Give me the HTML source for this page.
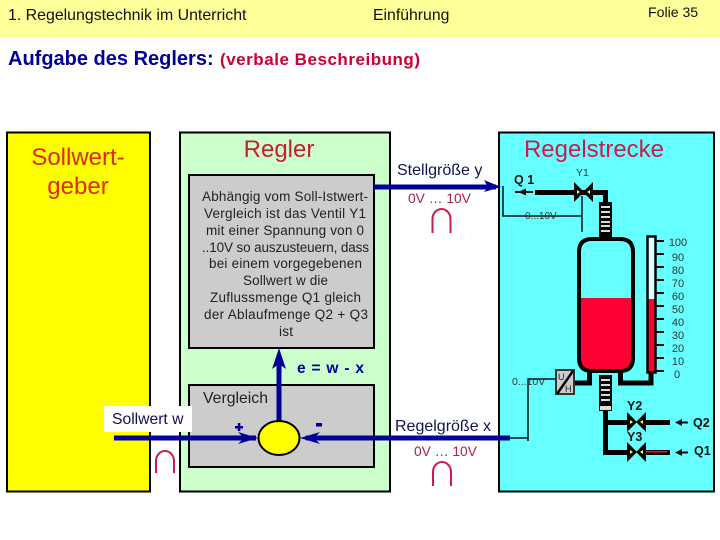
<!DOCTYPE html>
<html><head><meta charset="utf-8"><style>
html,body{margin:0;padding:0;background:#fff}
svg{display:block}
text{font-family:"Liberation Sans",sans-serif}
</style></head><body>
<svg width="720" height="540" viewBox="0 0 720 540" xmlns="http://www.w3.org/2000/svg">
<rect x="0" y="0" width="720" height="37" fill="#ffff99"/>
<text x="8" y="20" font-size="15.900" fill="#111">1. Regelungstechnik im Unterricht</text>
<text x="373" y="20" font-size="15.800" fill="#111">Einführung</text>
<text x="648" y="17" font-size="14.100" fill="#111">Folie 35</text>
<text x="8" y="65" font-size="20" font-weight="bold" fill="#000099">Aufgabe des Reglers:</text>
<text x="220" y="65" font-size="17" font-weight="bold" fill="#cc0033" textLength="200">(verbale Beschreibung)</text>

<rect x="7" y="132.500" width="143" height="359" fill="#ffff00" stroke="#000" stroke-width="2"/>
<rect x="180" y="132.500" width="210" height="359" fill="#ccffcc" stroke="#000" stroke-width="2"/>
<rect x="499" y="132.500" width="215" height="359" fill="#66ffff" stroke="#000" stroke-width="2"/>
<rect x="189" y="175" width="185" height="173" fill="#cccccc" stroke="#000" stroke-width="2"/>
<rect x="189" y="385" width="185" height="82" fill="#cccccc" stroke="#000" stroke-width="2"/>

<text x="78" y="165" font-size="24" fill="#dd2a10" text-anchor="middle">Sollwert-</text>
<text x="78" y="194" font-size="24" fill="#dd2a10" text-anchor="middle">geber</text>
<text x="279" y="157" font-size="24" fill="#cc1a33" text-anchor="middle">Regler</text>
<text x="594" y="157" font-size="24" fill="#cc1a4a" text-anchor="middle">Regelstrecke</text>

<g font-size="13.500" fill="#222">
<text x="202" y="201" textLength="166">Abhängig vom Soll-Istwert-</text>
<text x="204" y="218" textLength="162">Vergleich ist das Ventil Y1</text>
<text x="206" y="235" textLength="158">mit einer Spannung von 0</text>
<text x="202" y="252" textLength="167">..10V so auszusteuern, dass</text>
<text x="209" y="268" textLength="153">bei einem vorgegebenen</text>
<text x="243" y="285" textLength="85">Sollwert w die</text>
<text x="210" y="302" textLength="151">Zuflussmenge Q1 gleich</text>
<text x="204" y="319" textLength="164">der Ablaufmenge Q2 + Q3</text>
<text x="279" y="336" textLength="14">ist</text>
</g>

<text x="203" y="403" font-size="15.800" fill="#222">Vergleich</text>

<!-- Blue lines -->
<g fill="#000099" stroke="none">
<rect x="374" y="184.500" width="122" height="5"/>
<polygon points="484,180 501,187 484,192 488,187"/>
<rect x="114" y="435.500" width="142" height="5"/>
<polygon points="238,432 258,438 238,444 244,438"/>
<rect x="306" y="435.500" width="204" height="5"/>
<polygon points="320,432 300,438 320,444 314,438"/>
<rect x="276.500" y="360" width="5" height="61"/>
<polygon points="279,348 272,369 279,364 286,369"/>
<text x="297" y="373" font-size="15.500" font-weight="bold" textLength="67">e = w - x</text>
</g>
<rect x="235" y="426" width="8" height="2.500" fill="#000099"/>
<rect x="237.800" y="423" width="2.500" height="8" fill="#000099"/>
<rect x="316" y="423" width="6" height="3.500" fill="#000099"/>

<ellipse cx="279" cy="438" rx="20.500" ry="17" fill="#ffff00" stroke="#000" stroke-width="2"/>

<rect x="104" y="406" width="88" height="26" fill="#fff"/>
<text x="112" y="424" font-size="15.700" fill="#111155">Sollwert w</text>

<text x="397" y="175" font-size="16" fill="#111155">Stellgröße y</text>
<text x="408" y="203" font-size="13.800" fill="#aa2244">0V … 10V</text>
<text x="395" y="431" font-size="16" fill="#111155">Regelgröße x</text>
<text x="414" y="456" font-size="13.800" fill="#aa2244">0V … 10V</text>

<g fill="none" stroke="#cc1a4a" stroke-width="2">
<path d="M156,473 V461 A9,10 0 0 1 174,461 V473"/>
<path d="M432.500,233 V219 A9,10 0 0 1 450.500,219 V233"/>
<path d="M433,486 V472 A9,10 0 0 1 451,472 V486"/>
</g>

<!-- Thin signal lines -->
<g fill="none" stroke="#111" stroke-width="1.500">
<path d="M503,186 V216 H582"/>
<path d="M582,196 V232"/>
<path d="M555,379 H528 V441"/>
<path d="M510,438 H528"/>
</g>

<text x="525" y="219" font-size="10" fill="#333">0...10V</text>
<text x="512" y="385" font-size="10.500" fill="#333">0...10V</text>
<text x="514" y="184" font-size="12.500" font-weight="bold" fill="#111">Q 1</text>
<text x="576" y="176" font-size="10.500" fill="#333">Y1</text>

<!-- Q1 arrow -->
<rect x="515" y="191" width="18" height="2" fill="#111"/>
<polygon points="518,192 526,188.500 526,195.500" fill="#111"/>

<!-- Top pipe -->
<path d="M535,192.500 H605.500 V203" fill="none" stroke="#000" stroke-width="5"/>
<!-- Y1 valve -->
<g>
<polygon points="574,182 584,192 574,202" fill="#000"/>
<polygon points="593,182 583,192 593,202" fill="#000"/>
<polygon points="577,190 580,192 577,194" fill="#ffff44"/>
<polygon points="590,190 587,192 590,194" fill="#ffff44"/>
</g>

<!-- Grid top -->
<rect x="599" y="202" width="13" height="36" fill="#000"/>
<g fill="#ddd">
<rect x="601" y="206" width="9" height="2"/><rect x="601" y="211" width="9" height="2"/>
<rect x="601" y="216" width="9" height="2"/><rect x="601" y="221" width="9" height="2"/>
<rect x="601" y="225" width="9" height="2"/><rect x="601" y="230" width="9" height="2"/>
</g>

<!-- Tank -->
<path d="M579,298 H633 V358 Q633,371 620,371 H592 Q579,371 579,358 Z" fill="#ff0033"/>
<path d="M579,358 V252 Q579,239 592,239 H620 Q633,239 633,252 V358 Q633,371 620,371 H592 Q579,371 579,358 Z" fill="none" stroke="#000" stroke-width="4"/>

<!-- Gauge -->
<rect x="647.500" y="236.500" width="8" height="136" fill="#ddffff"/>
<rect x="647.500" y="299" width="8" height="73" fill="#ff0033"/>
<rect x="647.500" y="236.500" width="8" height="136" fill="none" stroke="#000" stroke-width="2.500"/>
<g stroke="#000" stroke-width="2">
<path d="M656,241 H664 M656,254 H664 M656,267 H664 M656,280 H664 M656,293 H664 M656,306 H664 M656,319 H664 M656,332 H664 M656,345 H664 M656,358 H664 M656,371 H664"/>
</g>
<g font-size="11" fill="#333" text-anchor="middle">
<text x="678" y="246">100</text>
<text x="678" y="261">90</text>
<text x="678" y="274">80</text>
<text x="678" y="287">70</text>
<text x="678" y="300">60</text>
<text x="678" y="313">50</text>
<text x="678" y="326">40</text>
<text x="678" y="339">30</text>
<text x="678" y="352">20</text>
<text x="678" y="365">10</text>
<text x="677" y="378">0</text>
</g>

<!-- Lower connections -->
<path d="M574,383 H589.500 V372" fill="none" stroke="#000" stroke-width="5"/>
<path d="M620.500,372 V383 H651 V372" fill="none" stroke="#000" stroke-width="5"/>

<!-- U/H box -->
<rect x="556" y="370" width="18" height="24" fill="#cccccc" stroke="#333" stroke-width="2"/>
<path d="M557,394 L573,371" stroke="#000" stroke-width="2.500"/>
<text x="558" y="380" font-size="9" fill="#222">U</text>
<text x="565" y="392" font-size="9" fill="#222">H</text>

<!-- Grid bottom -->
<rect x="599" y="375" width="13" height="36" fill="#000"/>
<g fill="#ddd">
<rect x="601" y="379" width="9" height="2"/><rect x="601" y="384" width="9" height="2"/>
<rect x="601" y="389" width="9" height="2"/><rect x="601" y="394" width="9" height="2"/>
<rect x="601" y="399" width="9" height="2"/><rect x="600" y="406" width="11" height="4"/>
</g>

<!-- Bottom pipes -->
<path d="M605.500,411 V452.500 H628" fill="none" stroke="#000" stroke-width="5"/>
<path d="M605.500,422.500 H628" fill="none" stroke="#000" stroke-width="5"/>
<rect x="645" y="420" width="25" height="5" fill="#000"/>
<rect x="645" y="450" width="25" height="5" fill="#000"/>
<rect x="646" y="451" width="21" height="1.500" fill="#dd2222"/>

<!-- Y2, Y3 valves -->
<g>
<polygon points="627,412 637,422 627,432" fill="#000"/>
<polygon points="646,412 636,422 646,432" fill="#000"/>
<polygon points="630,420 633,422 630,424" fill="#ffff44"/>
<polygon points="643,420 640,422 643,424" fill="#ffff44"/>
<polygon points="627,442 637,452 627,462" fill="#000"/>
<polygon points="646,442 636,452 646,462" fill="#000"/>
<polygon points="630,450 633,452 630,454" fill="#ffff44"/>
<polygon points="643,450 640,452 643,454" fill="#ffff44"/>
</g>
<text x="627" y="410" font-size="12.500" font-weight="bold" fill="#111">Y2</text>
<text x="627" y="441" font-size="12.500" font-weight="bold" fill="#111">Y3</text>

<g fill="#111">
<rect x="678" y="421.500" width="10" height="2"/>
<polygon points="675,422.500 682,419 682,426"/>
<rect x="678" y="451.500" width="10" height="2"/>
<polygon points="675,452.500 682,449 682,456"/>
</g>
<text x="693" y="427" font-size="12.500" font-weight="bold" fill="#111">Q2</text>
<text x="694" y="455" font-size="12.500" font-weight="bold" fill="#111">Q1</text>
</svg>
</body></html>
